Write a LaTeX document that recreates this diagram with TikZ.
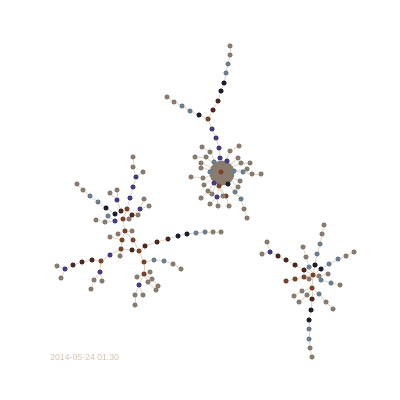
\documentclass[tikz,border=0pt]{standalone}
\usepackage{fontspec}
\usepackage{tikz}
\usetikzlibrary{calc,backgrounds}
\newfontfamily\stampfont{Liberation Sans}
\definecolor{tn}{HTML}{8A7B6F}
\definecolor{sl}{HTML}{6A7F8F}
\definecolor{in}{HTML}{453B85}
\definecolor{nv}{HTML}{1C1F30}
\definecolor{db}{HTML}{4A2A20}
\definecolor{ru}{HTML}{7B4428}
\definecolor{linkc}{HTML}{E3D3BF}
\definecolor{stampc}{HTML}{D2C2AB}

\begin{document}
\begin{tikzpicture}[
  x=0.025cm, y=-0.025cm,
  dot/.style={circle, fill=#1, inner sep=0pt, minimum size=1.3mm},
  link/.style={draw=linkc, line width=0.6pt}]
\useasboundingbox (0,0) rectangle (400,400);

% hub blob
\coordinate (hc) at (222,173);
\foreach \i in {0,...,23}
  \node[dot=tn] (k\i) at ($(hc)+(\i*15:10)$) {};
\foreach \i in {0,...,13}
  \node[dot=tn] (g\i) at ($(hc)+(\i*26+8:6.5)$) {};
\foreach \i in {0,...,7}
  \node[dot=tn] (j\i) at ($(hc)+(\i*45+20:3)$) {};

% hub and its branches
\foreach \n/\x/\y/\c in {
  h0/221/172/ru, a1/230/46/tn, a2/230/55/tn, a3/228/64/sl, a4/226/73/sl,
  a5/224/83/nv, a6/221/91/nv, a7/218/101/db, a8/213/110/db, a9/208/119/ru,
  b1/167/97/tn, b2/174/102/tn, b3/182/106/sl, b4/190/111/sl, b5/199/115/nv,
  c1/212/129/in, c2/216/138/in, c3/219/148/in, c4/220/158/in,
  h1/214/162/sl, h2/227/161/in, h3/210/172/sl, h4/234/171/sl, h5/228/184/nv,
  h6/219/186/ru, h7/214/183/in, h8/243/172/sl, h9/252/174/tn, h10/261/174/tn,
  h11/235/192/sl, h12/241/199/sl, h13/244/209/tn, h14/247/218/tn,
  h15/226/196/ru, h16/229/206/tn, h17/217/197/in, h18/218/206/tn, h19/210/204/tn,
  o1/202/147/tn, o2/210/152/tn, o3/195/157/tn, o4/206/157/tn, o5/239/146/tn,
  o6/230/151/tn, o7/250/163/tn, o8/241/163/tn, o9/238/158/tn, o10/247/169/tn,
  o11/191/177/tn, o12/203/178/tn, o13/201/163/tn, o14/201/168/tn, o15/204/185/tn,
  o16/240/181/tn, o17/238/187/tn, o18/201/198/tn, o19/208/191/tn, o20/212/194/tn,
  o21/223/196/tn}
  \node[dot=\c] (\n) at (\x,\y) {};

% left cluster
\foreach \n/\x/\y/\c in {
  l1/133/157/tn, l2/133/167/tn, l3/136/177/in, l4/143/172/tn, l5/133/187/in,
  l6/130/198/in, l7/127/209/ru, l8/117/190/tn, l9/110/193/tn, l10/117/200/in,
  l11/121/211/db, l12/77/184/tn, l13/83/190/tn, l14/90/196/sl, l15/98/202/sl,
  l16/106/208/nv, l17/115/214/nv, l18/108/216/sl, l19/115/221/in, l20/105/222/tn,
  l21/96/220/tn, l22/123/219/ru, l23/129/219/tn, l24/132/215/db, l25/138/215/tn,
  l26/140/209/in, l27/144/199/tn, l28/149/206/tn, l29/125/231/ru, l30/132/231/tn,
  l31/118/234/tn, l32/110/237/tn, l33/122/240/ru, l34/133/240/ru, l35/121/249/ru,
  l36/132/250/db, l37/139/251/ru, l38/120/256/tn, l39/110/255/in, l40/101/261/ru,
  l41/92/260/db, l42/82/262/db, l43/73/265/db, l44/65/269/in, l45/57/266/tn,
  l46/61/278/tn, l47/100/272/in, l48/94/280/tn, l49/102/281/tn, l50/91/289/tn,
  m1/145/246/db, m2/157/242/db, m3/168/239/db, m4/178/236/nv, m5/187/234/nv,
  m6/196/233/sl, m7/205/232/sl, m8/213/232/tn, m9/221/232/tn,
  n1/144/262/ru, n2/154/260/sl, n3/164/261/sl, n4/173/264/tn, n5/181/269/tn,
  n6/144/274/ru, n7/150/272/tn, n8/137/277/tn, n9/152/279/tn, n10/148/282/tn,
  n11/158/286/tn, n12/156/290/tn, n13/139/285/in, n14/135/295/tn, n15/143/295/tn,
  n16/135/305/tn}
  \node[dot=\c] (\n) at (\x,\y) {};

% right cluster
\foreach \n/\x/\y/\c in {
  r0/313/275/ru, r1/324/225/tn, r2/322/234/tn, r3/320/244/sl, r4/317/254/sl,
  r5/315/265/nv, r6/303/247/tn, r7/306/257/tn, r8/309/267/sl, r9/354/252/tn,
  r10/346/256/tn, r11/338/259/sl, r12/329/264/sl, r13/321/269/nv, r14/267/242/tn,
  r15/262/254/tn, r16/270/252/in, r17/278/256/db, r18/286/260/db, r19/295/265/db,
  r20/304/270/db, r21/286/281/ru, r22/295/279/ru, r23/304/277/ru, r24/328/274/tn,
  r25/319/276/tn, r26/340/285/tn, r27/331/283/sl, r28/321/280/sl, r29/309/279/tn,
  r30/312/288/ru, r31/302/291/tn, r32/294/296/tn, r33/307/295/tn, r34/299/302/tn,
  r35/319/294/sl, r36/326/302/tn, r37/333/309/tn, r38/312/299/db, r39/311/310/nv,
  r40/309/320/nv, r41/309/329/sl, r42/309/339/sl, r43/310/348/tn, r44/312/357/tn}
  \node[dot=\c] (\n) at (\x,\y) {};

\begin{pgfonlayer}{background}
\foreach \i in {0,...,23} \draw[link] (h0) -- (k\i);
\foreach \a/\b in {
  a1/a2, a2/a3, a3/a4, a4/a5, a5/a6, a6/a7, a7/a8, a8/a9,
  b1/b2, b2/b3, b3/b4, b4/b5, b5/a9, a9/c1, c1/c2, c2/c3, c3/c4, c4/h0,
  h0/h1, h0/h2, h0/h3, h0/h4, h0/h5, h0/h6, h0/h7, h4/h8, h8/h9, h9/h10,
  h5/h11, h11/h12, h12/h13, h13/h14, h6/h15, h15/h16, h6/h17, h17/h18, h17/h19,
  o1/o2, o2/h0, o3/o4, o4/h0, o5/o6, o6/h0, o7/o8, o8/h0, o9/h0, o10/h0,
  o11/o12, o12/h0, o13/h0, o14/h0, o15/h0, o16/h0, o17/h0, o18/o19, o19/h0,
  o20/h0, o21/h6}
  \draw[link] (\a) -- (\b);
\foreach \a/\b in {
  l1/l2, l2/l3, l3/l4, l3/l5, l5/l6, l6/l7, l8/l10, l9/l10, l10/l11,
  l12/l13, l13/l14, l14/l15, l15/l16, l16/l17, l17/l11, l11/l7, l7/l24,
  l24/l26, l26/l27, l26/l28, l24/l25, l7/l22, l22/l19, l22/l23, l19/l18,
  l19/l20, l20/l21, l22/l29, l29/l30, l29/l31, l32/l33, l29/l33, l29/l34,
  l33/l35, l35/l36, l36/l37, l34/l37, l35/l38, l35/l39, l39/l40, l40/l41,
  l41/l42, l42/l43, l43/l44, l44/l45, l44/l46, l40/l47, l47/l48, l47/l49,
  l48/l50, l37/m1, m1/m2, m2/m3, m3/m4, m4/m5, m5/m6, m6/m7, m7/m8, m8/m9,
  l37/n1, n1/n2, n2/n3, n3/n4, n4/n5, n1/n6, n6/n7, n6/n8, n6/n9, n9/n11,
  n6/n10, n10/n12, n6/n13, n13/n14, n13/n15, n14/n16}
  \draw[link] (\a) -- (\b);
\foreach \a/\b in {
  r1/r2, r2/r3, r3/r4, r4/r5, r5/r0, r6/r7, r7/r8, r8/r0,
  r9/r10, r10/r11, r11/r12, r12/r13, r13/r0, r14/r16, r15/r16, r16/r17,
  r17/r18, r18/r19, r19/r20, r20/r0, r21/r22, r22/r23, r23/r0, r24/r25,
  r25/r0, r26/r27, r27/r28, r28/r0, r29/r0, r0/r30, r30/r31, r31/r32,
  r30/r33, r33/r34, r30/r35, r35/r36, r36/r37, r30/r38, r38/r39, r39/r40,
  r40/r41, r41/r42, r42/r43, r43/r44}
  \draw[link] (\a) -- (\b);
\end{pgfonlayer}

\node[anchor=west, inner sep=0pt, text=stampc, font=\stampfont\fontsize{6.2}{7}\selectfont]
  (stamp) at (50,357) {2014-05-24 01:30};
\end{tikzpicture}
\end{document}
